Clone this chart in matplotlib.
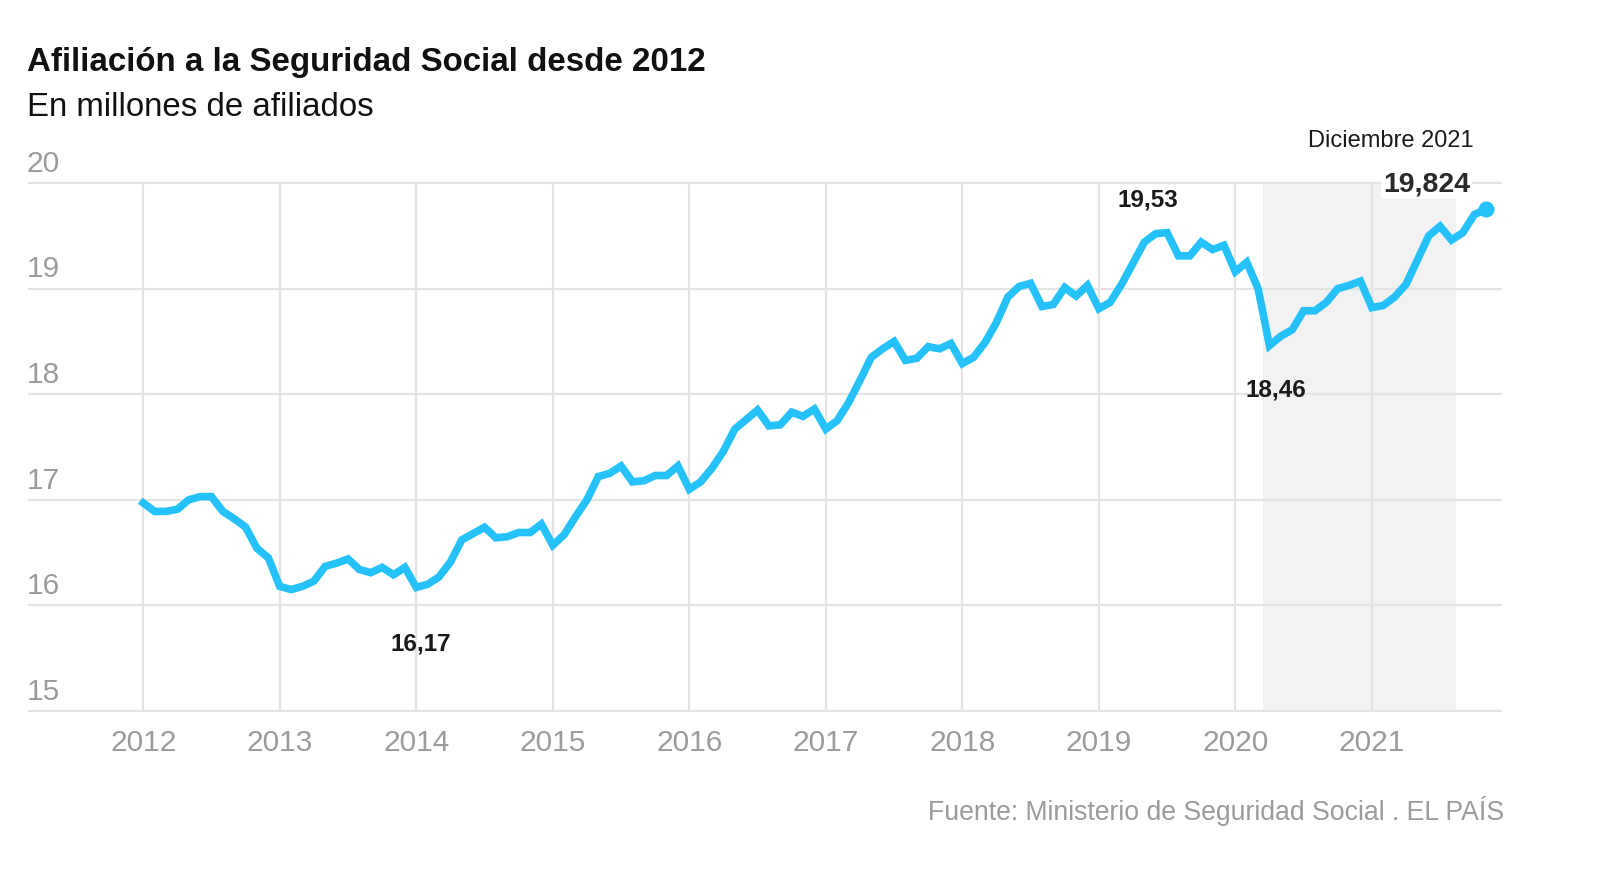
import numpy as np
import matplotlib
matplotlib.use("Agg")
import matplotlib.pyplot as plt
import matplotlib.transforms as mtransforms

# afiliados medios por mes, enero 2012 - noviembre 2021 (millones)
afiliados = [
    16.97, 16.89, 16.89, 16.91, 17.00, 17.03, 17.03, 16.89, 16.82, 16.74, 16.54, 16.45,
    16.18, 16.15, 16.18, 16.23, 16.37, 16.40, 16.44, 16.34, 16.31, 16.36, 16.29, 16.36,
    16.17, 16.20, 16.27, 16.41, 16.62, 16.68, 16.74, 16.64, 16.65, 16.69, 16.69, 16.77,
    16.57, 16.67, 16.84, 17.00, 17.22, 17.25, 17.32, 17.17, 17.18, 17.23, 17.23, 17.32,
    17.10, 17.17, 17.30, 17.46, 17.67, 17.76, 17.85, 17.70, 17.71, 17.83, 17.79, 17.86,
    17.67, 17.75, 17.92, 18.13, 18.35, 18.43, 18.50, 18.32, 18.34, 18.45, 18.43, 18.48,
    18.29, 18.35, 18.49, 18.68, 18.92, 19.02, 19.05, 18.83, 18.85, 19.01, 18.93, 19.03,
    18.81, 18.87, 19.04, 19.24, 19.44, 19.52, 19.53, 19.31, 19.31, 19.44, 19.37, 19.41,
    19.16, 19.25, 19.00, 18.46, 18.55, 18.61, 18.79, 18.79, 18.87, 19.00, 19.03, 19.07,
    18.82, 18.84, 18.92, 19.04, 19.27, 19.50, 19.59, 19.46, 19.53, 19.70, 19.75,
]
fechas = 2012 + np.arange(len(afiliados)) / 12

anios = list(range(2012, 2022))
yticks = [15, 16, 17, 18, 19, 20]
sombra = (2020.20, 2021.62)  # periodo sombreado

# etiquetas (texto, x, y)
etiquetas = [
    ("16,17", 2014.03, 15.63),
    ("19,53", 2019.36, 19.84),
    ("18,46", 2020.30, 18.04),
]
ultimo_txt = "19,824"
fecha_txt = "Diciembre 2021"

azul = "#25C1FA"
gris_txt = "#9b9b9b"
gris_grid = "#e4e4e4"
fuente = ["Liberation Sans", "DejaVu Sans"]

fig = plt.figure(figsize=(16.1, 8.84), dpi=100)
ax = fig.add_axes([0.018, 0.1957, 0.9143, 0.5973])

ax.set_xlim(2011.163, 2021.946)
ax.set_ylim(15, 20)
for s in ax.spines.values():
    s.set_visible(False)
ax.set_xticks([])
ax.set_yticks([])

ax.axvspan(sombra[0], sombra[1], color="#f2f2f2", zorder=0, lw=0)
for y in yticks:
    ax.axhline(y, color=gris_grid, lw=1.6, zorder=1, clip_on=False)
for a in anios:
    ax.axvline(a, color=gris_grid, lw=1.6, zorder=1)

ax.plot(fechas, afiliados, color=azul, lw=5.5, solid_joinstyle="miter", zorder=3)
ax.plot(fechas[-1], afiliados[-1], "o", color=azul, ms=10.5, zorder=4)

# ejes como texto
trans_y = mtransforms.blended_transform_factory(ax.transAxes, ax.transData)
for y in yticks:
    ax.text(-0.0015, y + 0.05, str(y), transform=trans_y, ha="left", va="bottom",
            fontsize=21.5, color=gris_txt, family=fuente)
trans_x = mtransforms.blended_transform_factory(ax.transData, ax.transAxes)
for a in anios:
    ax.text(a, -0.06, str(a), transform=trans_x, ha="center", va="center",
            fontsize=21.5, color=gris_txt, family=fuente)

for txt, x, y in etiquetas:
    ax.text(x, y, txt, ha="center", va="center", fontsize=17.5, fontweight="bold",
            color="#1a1a1a", family=fuente, zorder=5)
ax.text(2021.40, 19.99, ultimo_txt, ha="center", va="center", fontsize=20.5,
        fontweight="bold", color="#2a2a2a", family=fuente, zorder=5,
        bbox=dict(facecolor="white", edgecolor="none", pad=1.5))
ax.text(2021.14, 20.40, fecha_txt, ha="center", va="center", fontsize=17,
        color="#1a1a1a", family=fuente, clip_on=False)

fig.text(27 / 1610, 1 - 63 / 884, "Afiliación a la Seguridad Social desde 2012",
         ha="left", va="center", fontsize=23.9, fontweight="bold", color="#111111",
         family=fuente)
fig.text(27 / 1610, 1 - 107 / 884, "En millones de afiliados", ha="left", va="center",
         fontsize=23.8, color="#111111", family=fuente)
fig.text(1504 / 1610, 1 - 811 / 884, "Fuente: Ministerio de Seguridad Social . EL PAÍS",
         ha="right", va="center", fontsize=19.2, color=gris_txt, family=fuente)

fig.savefig("out.png", dpi=100, facecolor="white")
